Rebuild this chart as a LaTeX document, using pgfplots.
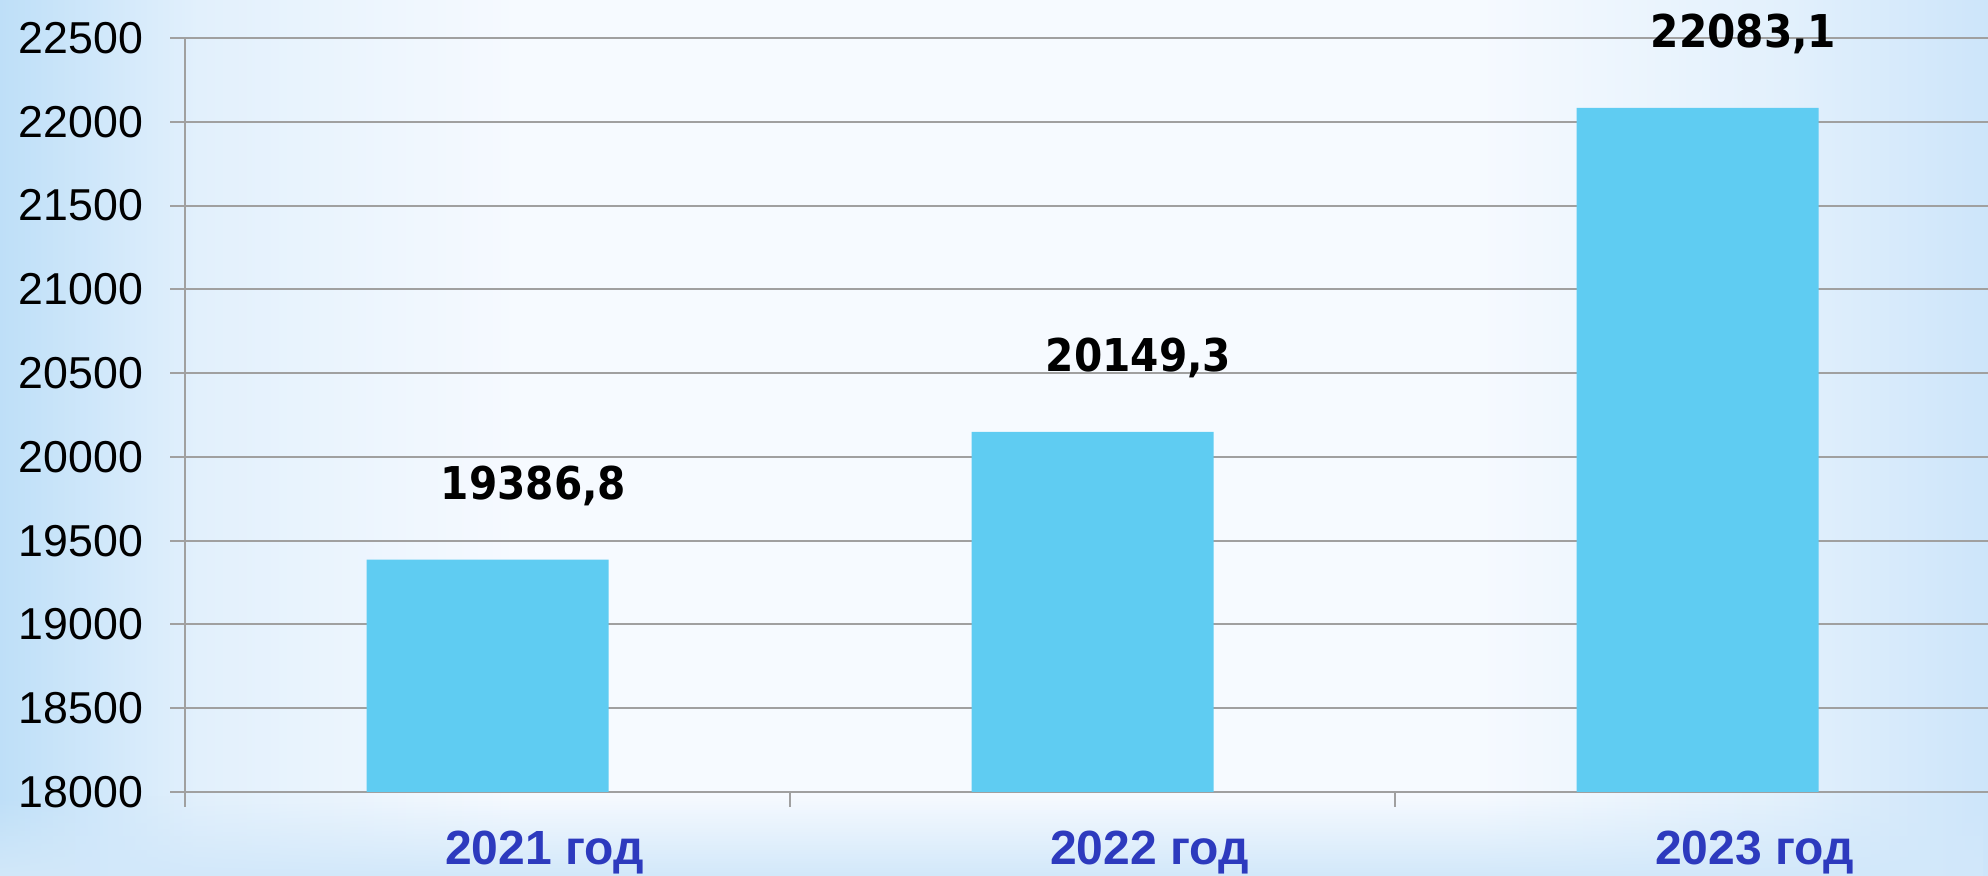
\documentclass[border=0pt]{standalone}
\usepackage{fontspec}
\setmainfont{Liberation Sans}
\newfontfamily\lblfont{DejaVu Sans}[FakeStretch=0.9]
\usepackage{pgfplots}
\pgfplotsset{compat=1.18}
\usetikzlibrary{fadings}
\definecolor{barc}{RGB}{95,204,242}
\definecolor{gridc}{RGB}{160,160,160}
\definecolor{edgel}{RGB}{190,223,248}
\definecolor{edger}{RGB}{205,229,250}
\definecolor{midc}{RGB}{226,240,252}
\definecolor{whc}{RGB}{246,250,255}
\definecolor{bandc}{RGB}{210,232,250}
\definecolor{labc}{RGB}{45,58,190}
\pgfdeclarehorizontalshading{bgshade}{100bp}{color(0bp)=(edgel); color(25bp)=(edgel); color(30bp)=(midc); color(38bp)=(whc); color(62bp)=(whc); color(70bp)=(midc); color(75bp)=(edger); color(100bp)=(edger)}
\begin{document}
\begin{tikzpicture}
\useasboundingbox (0,0) rectangle (994pt,438pt);
\shade[shading=bgshade] (0,0) rectangle (994pt,438pt);
\fill[bandc, path fading=north] (0,0) rectangle (994pt,40pt);
\begin{axis}[
  at={(92.5pt,42pt)}, anchor=south west,
  scale only axis, width=901.5pt, height=377pt,
  xmin=-0.5, xmax=2.48, ymin=18000, ymax=22500,
  ytick={18000,18500,...,22500},
  scaled y ticks=false,
  xtick={-0.5,0.5,1.5},
  xticklabels={},
  extra x ticks={0,1,2},
  extra x tick labels={2021 год,2022 год,2023 год},
  extra x tick style={major tick length=0pt, grid=none,
    xticklabel style={font=\bfseries\fontsize{24}{28}\selectfont, text=labc, anchor=base, xshift=28.5pt, yshift=-36.5pt}},
  axis x line*=bottom, axis y line*=left,
  axis line style={gridc, line width=1pt, -},
  tick style={gridc, line width=1pt},
  tick align=outside, major tick length=7.5pt,
  ymajorgrids, grid style={gridc, line width=1pt},
  yticklabel style={font=\fontsize{22.35}{26}\selectfont, text=black, xshift=-10pt},
  /pgf/number format/assume math mode=true,
  /pgf/number format/set thousands separator={},
  ybar, bar width=121pt,
  clip mode=individual,
  point meta=explicit symbolic,
  nodes near coords,
  every node near coord/.append style={anchor=base, xshift=23pt, yshift=30pt, font=\lblfont\bfseries\fontsize{22.6}{26}\selectfont, text=black},
]
\addplot[fill=barc, draw=none] coordinates {(0,19386.8) [19386,8] (1,20149.3) [20149,3] (2,22083.1) [22083,1]};
\end{axis}
\end{tikzpicture}
\end{document}
